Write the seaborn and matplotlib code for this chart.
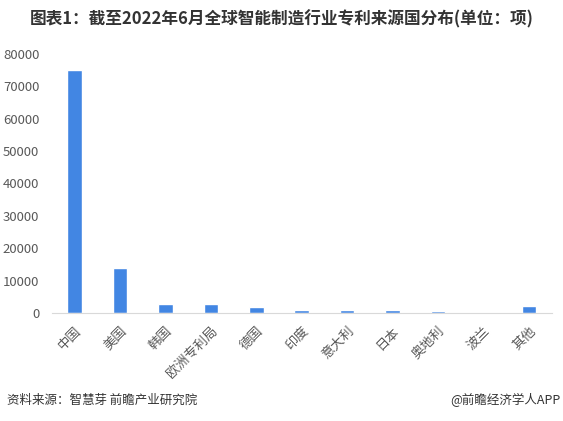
import matplotlib
matplotlib.use('Agg')
import matplotlib.pyplot as plt
import seaborn as sns
import pandas as pd

# data
countries = ['中国', '美国', '韩国', '欧洲专利局', '德国', '印度', '意大利', '日本', '奥地利', '波兰', '其他']
patents = [75000, 13800, 2900, 2900, 1800, 900, 850, 850, 550, 80, 2200]
y_ticks = [0, 10000, 20000, 30000, 40000, 50000, 60000, 70000, 80000]

sns.set_style('white')
plt.rcParams['font.family'] = ['Noto Sans CJK SC', 'DejaVu Sans']

df = pd.DataFrame({'country': countries, 'patents': patents})

fig = plt.figure(figsize=(5.63, 4.21), dpi=100)
ax = fig.add_axes([0.092, 0.2565, 0.888, 0.6155])
sns.barplot(data=df, x='country', y='patents', color='#4286E3', width=0.32,
            saturation=1, ax=ax)

ax.set_ylim(0, 80000)
ax.set_yticks(y_ticks)
ax.set_yticklabels([str(v) for v in y_ticks], color='#595959', fontsize=9.5)
ax.set_xticks(range(len(countries)))
ax.set_xticklabels(countries, rotation=45, ha='right', rotation_mode='anchor',
                   color='#595959', fontsize=9.5)
ax.tick_params(axis='y', length=0, pad=9)
ax.tick_params(axis='x', length=0, pad=8)
ax.set_xlabel('')
ax.set_ylabel('')
for s in ['top', 'right', 'left']:
    ax.spines[s].set_visible(False)
ax.spines['bottom'].set_color('#d9d9d9')
ax.set_xlim(-0.5, len(countries) - 0.5)

fig.text(0.5, 0.955, '图表1：截至2022年6月全球智能制造行业专利来源国分布(单位：项)',
         ha='center', va='center', fontsize=12, fontweight='bold', color='#333333')
fig.text(0.012, 0.05, '资料来源：智慧芽 前瞻产业研究院', ha='left', va='center',
         fontsize=9, color='#333333')
fig.text(0.995, 0.05, '@前瞻经济学人APP', ha='right', va='center',
         fontsize=9, color='#333333')

fig.savefig('out.png', dpi=100)
